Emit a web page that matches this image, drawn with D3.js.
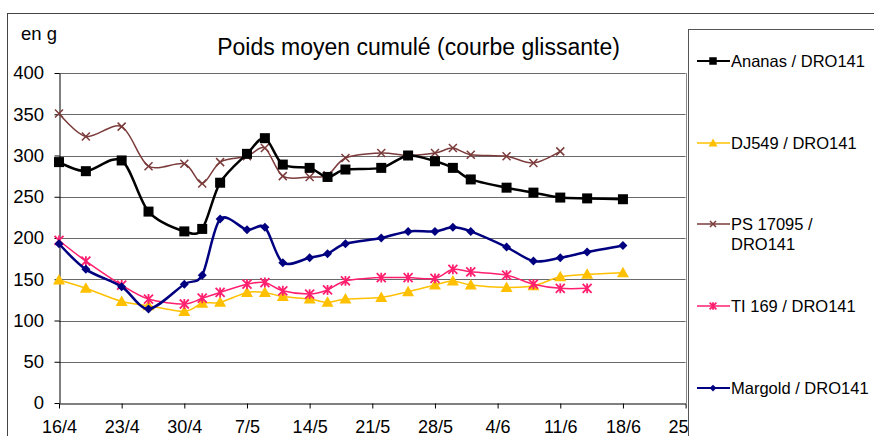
<!DOCTYPE html>
<html>
<head>
<meta charset="utf-8">
<script src="https://cdn.jsdelivr.net/npm/d3@7"></script>
<style>
  body { margin: 0; background: #fff; }
  svg { font-family: "Liberation Sans", Arial, sans-serif; }
</style>
</head>
<body>
<svg id="chart" width="874" height="436"></svg>
<script>
const W = 874
const H = 436

// dates of the measurements (d/m)
const dates = ['16/4', '19/4', '23/4', '26/4', '30/4', '2/5', '4/5', '7/5', '9/5', '11/5', '14/5', '16/5',
  '18/5', '22/5', '25/5', '28/5', '30/5', '1/6', '5/6', '8/6', '11/6', '14/6', '18/6']

const ananas = [292, 281, 294, 232, 208, 211, 267, 302, 321, 289, 285, 274, 283, 285, 300, 293, 285, 271, 261, 255, 249, 248, 247]
const dj549 = [149, 139, 123, 118, 111, 121, 122, 134, 134, 129, 126, 122, 126, 128, 135, 143, 148, 143, 140, 142, 153, 156, 158]
const ps17095 = [351, 323, 335, 287, 290, 266, 292, 299, 309, 275, 274, 276, 297, 303, 300, 303, 309, 301, 299, 291, 305, null, null]
const ti169 = [197, 172, 143, 126, 120, 127, 134, 144, 146, 136, 132, 137, 148, 152, 152, 151, 162, 159, 155, 144, 139, 139, null]
const margold = [193, 162, 141, 114, 144, 155, 223, 210, 213, 170, 176, 181, 193, 200, 208, 208, 213, 208, 189, 172, 176, 183, 191]

const yTicks = [0, 50, 100, 150, 200, 250, 300, 350, 400]

const series = [
  { name: 'Ananas / DRO141', values: ananas, color: '#000000', width: 2.5, marker: 'square' },
  { name: 'DJ549 / DRO141', values: dj549, color: '#ffc000', width: 1.5, marker: 'triangle' },
  { name: ['PS 17095 /', 'DRO141'], values: ps17095, color: '#7b3b3b', width: 1.5, marker: 'cross' },
  { name: 'TI 169 / DRO141', values: ti169, color: '#ff1f6f', width: 1.5, marker: 'star' },
  { name: 'Margold / DRO141', values: margold, color: '#000080', width: 2.5, marker: 'diamond' }
]

const parse = d3.timeParse('%d/%m/%Y')
const toDate = s => parse(s + '/2010')

const margins = { left: 59, top: 73, right: 874 - 685.6, bottom: 436 - 403 }

const svg = d3.select('#chart')

// outer frame of the chart object
svg.append('rect')
  .attr('x', 7.5).attr('y', 13.5)
  .attr('width', 900).attr('height', 500)
  .attr('fill', '#fff').attr('stroke', '#444').attr('stroke-width', 1)

const xScale = d3.scaleTime()
  .domain([toDate('16/4'), toDate('25/6')])
  .range([margins.left, W - margins.right])

const yScale = d3.scaleLinear()
  .domain([0, 400])
  .range([H - margins.bottom, margins.top])

// gridlines
svg.append('g')
  .selectAll('line')
  .data(yTicks.filter(d => d > 0))
  .enter()
  .append('line')
  .attr('x1', margins.left).attr('x2', W - margins.right)
  .attr('y1', d => Math.round(yScale(d)) + 0.5)
  .attr('y2', d => Math.round(yScale(d)) + 0.5)
  .attr('stroke', '#6a6a6a')
  .attr('stroke-width', 1)

// right edge of the plot area
svg.append('line')
  .attr('x1', Math.round(W - margins.right) + 0.5).attr('x2', Math.round(W - margins.right) + 0.5)
  .attr('y1', margins.top).attr('y2', yScale(0))
  .attr('stroke', '#888')

const xAxis = d3.axisBottom(xScale)
  .tickValues(d3.range(0, 71, 7).map(d => d3.timeDay.offset(toDate('16/4'), d)))
  .tickFormat(d3.timeFormat('%-d/%-m'))
  .tickSize(5)
  .tickSizeOuter(0)

const yAxis = d3.axisLeft(yScale)
  .tickValues(yTicks)
  .tickSize(5)
  .tickSizeOuter(0)

const gx = svg.append('g')
  .attr('transform', 'translate(0,' + (Math.round(yScale(0)) + 0.5) + ')')
  .call(xAxis)
gx.selectAll('text').attr('font-size', 18).attr('fill', '#000').attr('dy', '1.22em')
  .attr('font-family', '"Liberation Sans", Arial, sans-serif')
gx.selectAll('line, path').attr('stroke', '#000')

const gy = svg.append('g')
  .attr('transform', 'translate(' + (margins.left + 0.5) + ',0)')
  .call(yAxis)
gy.selectAll('text').attr('font-size', 18.5).attr('fill', '#000').attr('x', -15.5)
  .attr('font-family', '"Liberation Sans", Arial, sans-serif')
gy.selectAll('line, path').attr('stroke', '#000')

// markers
function marker(g, type, color, s) {
  if (type === 'square') {
    g.append('rect').attr('x', -s / 2).attr('y', -s / 2).attr('width', s).attr('height', s)
      .attr('fill', color)
  } else if (type === 'triangle') {
    g.append('path').attr('d', `M0,${-s * 0.6}L${s * 0.6},${s * 0.45}L${-s * 0.6},${s * 0.45}Z`)
      .attr('fill', color)
  } else if (type === 'diamond') {
    g.append('path').attr('d', `M0,${-s / 2}L${s / 2},0L0,${s / 2}L${-s / 2},0Z`)
      .attr('fill', color)
  } else if (type === 'cross') {
    const r = s / 2
    g.append('path').attr('d', `M${-r},${-r}L${r},${r}M${-r},${r}L${r},${-r}`)
      .attr('stroke', color).attr('stroke-width', 1.5).attr('fill', 'none')
  } else if (type === 'star') {
    const r = s / 2
    g.append('path').attr('d', `M${-r},${-r}L${r},${r}M${-r},${r}L${r},${-r}M0,${-r * 1.1}L0,${r * 1.1}`)
      .attr('stroke', color).attr('stroke-width', 1.8).attr('fill', 'none')
  }
}

const markerSize = { square: 10, triangle: 10, diamond: 9, cross: 8, star: 9 }

const line = d3.line()
  .defined(d => d.v != null)
  .x(d => xScale(d.date))
  .y(d => yScale(d.v))
  .curve(d3.curveCardinal.tension(0.1))

// draw order similar to the original (Margold on top of DJ549 etc.)
const drawOrder = [2, 0, 1, 3, 4]
drawOrder.forEach(i => {
  const s = series[i]
  const pts = dates.map((d, j) => ({ date: toDate(d), v: s.values[j] })).filter(d => d.v != null)
  const g = svg.append('g')
  g.append('path')
    .datum(pts)
    .attr('d', line)
    .attr('fill', 'none')
    .attr('stroke', s.color)
    .attr('stroke-width', s.width)
  g.selectAll('g.mk')
    .data(pts)
    .enter()
    .append('g')
    .attr('class', 'mk')
    .attr('transform', d => 'translate(' + xScale(d.date) + ',' + yScale(d.v) + ')')
    .each(function () { marker(d3.select(this), s.marker, s.color, markerSize[s.marker]) })
})

// titles
svg.append('text')
  .attr('x', 21).attr('y', 40)
  .attr('font-size', 18.5)
  .text('en g')

svg.append('text')
  .attr('x', 418.5).attr('y', 55)
  .attr('text-anchor', 'middle')
  .attr('font-size', 23)
  .text('Poids moyen cumulé (courbe glissante)')

// legend
svg.append('rect')
  .attr('x', 688.5).attr('y', 29.5)
  .attr('width', 300).attr('height', 500)
  .attr('fill', '#fff').attr('stroke', '#555')

const legendY = [61, 143, 224, 306, 388]
series.forEach((s, i) => {
  const g = svg.append('g').attr('transform', 'translate(0,' + legendY[i] + ')')
  g.append('line').attr('x1', 697).attr('x2', 730)
    .attr('stroke', s.color).attr('stroke-width', s.width === 2.5 ? 2 : 1.5)
  const m = g.append('g').attr('transform', 'translate(713,0)')
  marker(m, s.marker, s.color, markerSize[s.marker] * 0.75)
  const names = Array.isArray(s.name) ? s.name : [s.name]
  names.forEach((n, k) => {
    g.append('text')
      .attr('x', 731).attr('y', 6 + k * 20)
      .attr('font-size', 16.5)
      .text(n)
  })
})
</script>
</body>
</html>
